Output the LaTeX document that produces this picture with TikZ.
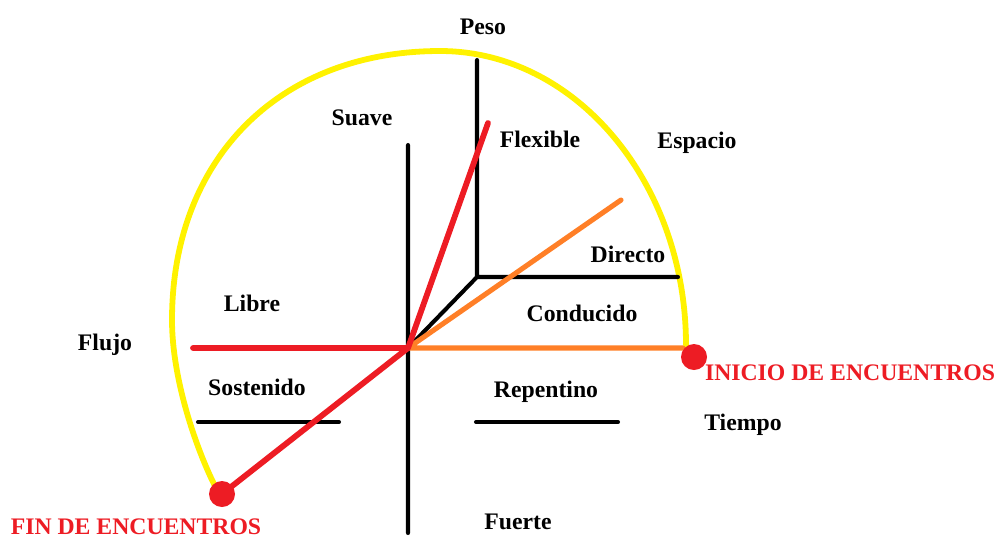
\documentclass[tikz,border=0pt]{standalone}
\usepackage{fontspec}
\setmainfont{Liberation Serif}
\definecolor{rojo}{RGB}{237,28,36}
\definecolor{naranja}{RGB}{255,127,39}
\definecolor{amarillo}{RGB}{255,242,0}
\begin{document}
\begin{tikzpicture}[x=0.02cm,y=-0.02cm,line join=round,line cap=round,
	font=\bfseries\fontsize{13.5}{16}\selectfont,
	eje/.style={line width=2.3pt},
	rayo/.style={rojo,line width=3.3pt},
	tramo/.style={naranja,line width=2.9pt}]
	\useasboundingbox (0,0) rectangle (997,539);
	\def\r{7.4pt} % radio de los puntos
	\path
	(408,348) coordinate (O)
	(408,145) coordinate (S)
	(408,533) coordinate (F)
	(477,60) coordinate (P)
	(477,277) coordinate (Q)
	(678,277) coordinate (D)
	(193,348) coordinate (L)
	(488,123) coordinate (X)
	(621,200) coordinate (E)
	(683,348) coordinate (T)
	(694,357) coordinate (I)
	(222,494) coordinate (Fi)
	(198,422) coordinate (A1) (339,422) coordinate (A2)
	(476,422) coordinate (B1) (618,422) coordinate (B2);
	% arco amarillo
	\draw[amarillo,line width=3.3pt] (686,345) .. controls (686,183) and (576,51) .. (440,51)
		.. controls (279,51) and (172,159) .. (172,320)
		.. controls (172,380) and (197,451) .. (216,488);
	% ejes
	\draw[eje] (S)--(F) (P)--(Q)--(D) (Q)--(O);
	\draw[eje] (A1)--(A2) (B1)--(B2);
	% tramos
	\draw[tramo] (O)--(T) (O)--(E);
	\draw[rayo] (L)--(O) (Fi)--(O)--(X);
	\fill[rojo] (I) circle (\r);
	\fill[rojo] (Fi) circle (\r);
	% textos
	\node (peso) at (483,27) {Peso};
	\node (suave) at (362,118) {Suave};
	\node (flexible) at (540,139) {Flexible};
	\node (espacio) at (697,143) {Espacio};
	\node (directo) at (628,254) {Directo};
	\node (libre) at (252,303) {Libre};
	\node (conducido) at (582,313) {Conducido};
	\node (flujo) at (105,345) {Flujo};
	\node (sostenido) at (257,387) {Sostenido};
	\node (repentino) at (546,392) {Repentino};
	\node (tiempo) at (743,425) {Tiempo};
	\node (fuerte) at (518,522) {Fuerte};
	\node[rojo] (inicio) at (850,373) {INICIO DE ENCUENTROS};
	\node[rojo,inner sep=1pt] (fin) at (136,527) {FIN DE ENCUENTROS};
\end{tikzpicture}
\end{document}
